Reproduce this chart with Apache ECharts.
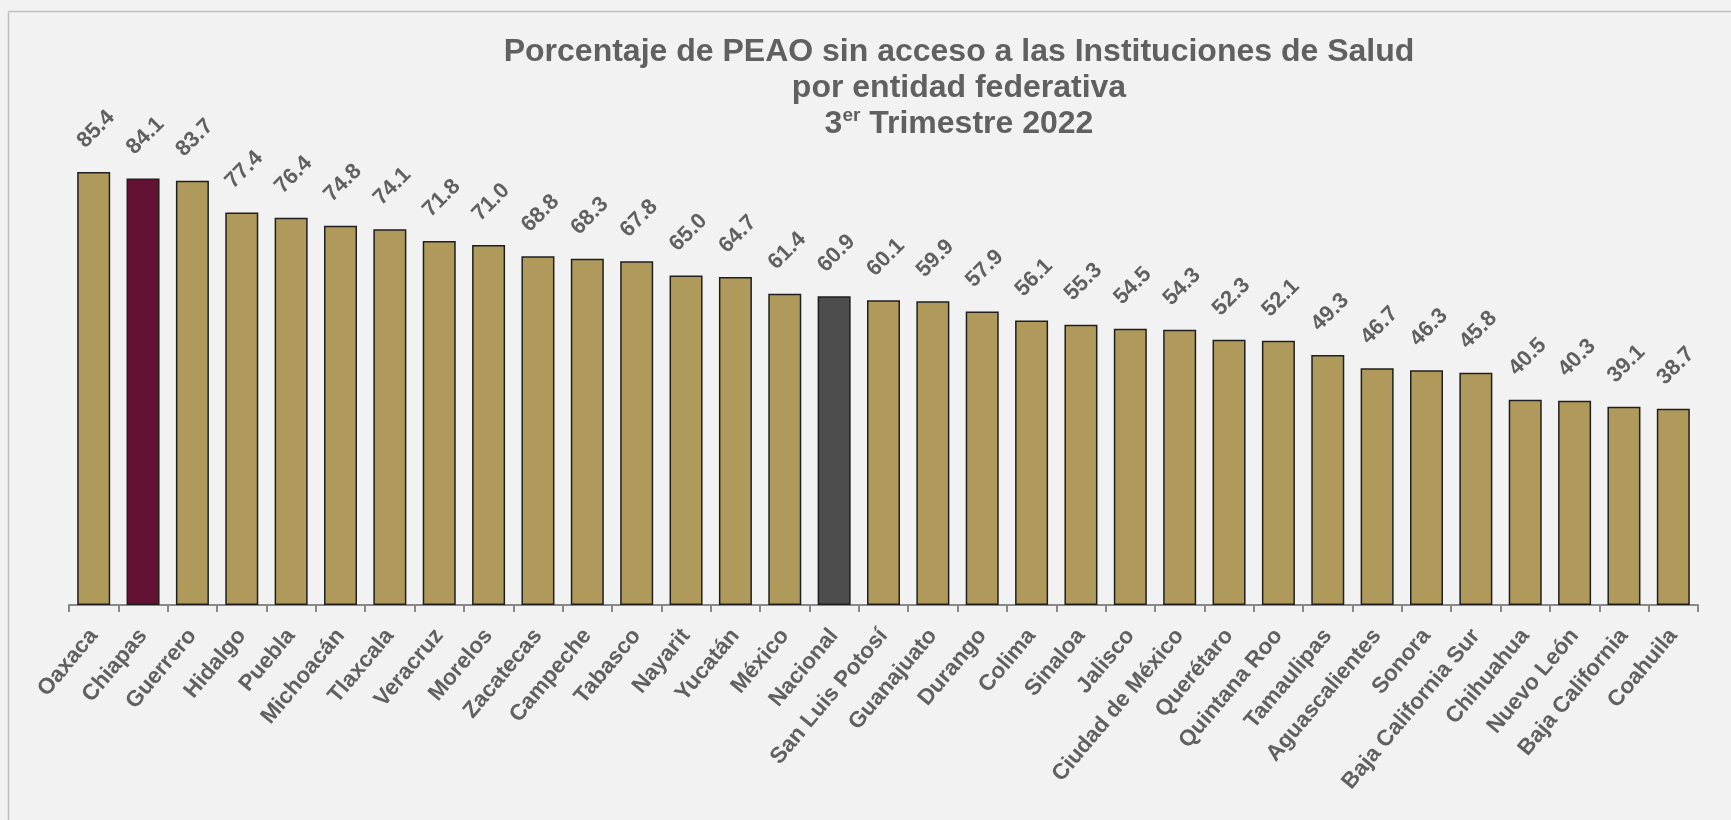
<!DOCTYPE html>
<html>
<head>
<meta charset="utf-8">
<script src="https://cdn.jsdelivr.net/npm/echarts@6/dist/echarts.min.js"></script>
<style>
  html, body { margin: 0; padding: 0; background: #f2f2f2; }
  #chart { width: 1731px; height: 820px; }
</style>
</head>
<body>
<div id="chart"></div>
<script>
// entidades federativas
var entidades = ['Oaxaca', 'Chiapas', 'Guerrero', 'Hidalgo', 'Puebla', 'Michoacán', 'Tlaxcala', 'Veracruz',
  'Morelos', 'Zacatecas', 'Campeche', 'Tabasco', 'Nayarit', 'Yucatán', 'México', 'Nacional',
  'San Luis Potosí', 'Guanajuato', 'Durango', 'Colima', 'Sinaloa', 'Jalisco', 'Ciudad de México',
  'Querétaro', 'Quintana Roo', 'Tamaulipas', 'Aguascalientes', 'Sonora', 'Baja California Sur',
  'Chihuahua', 'Nuevo León', 'Baja California', 'Coahuila']
// porcentaje de PEAO sin acceso
var porcentajes = [85.4, 84.1, 83.7, 77.4, 76.4, 74.8, 74.1, 71.8, 71.0, 68.8, 68.3, 67.8, 65.0, 64.7,
  61.4, 60.9, 60.1, 59.9, 57.9, 56.1, 55.3, 54.5, 54.3, 52.3, 52.1, 49.3, 46.7, 46.3, 45.8, 40.5,
  40.3, 39.1, 38.7]
// barras resaltadas
var resaltadas = { 'Chiapas': '#621132', 'Nacional': '#4d4d4d' }

var colorBase = '#b09a5b'
var gris = '#606060'
var fuente = '"Liberation Sans", Arial, sans-serif'

var myChart = echarts.init(document.getElementById('chart'))

var datos = porcentajes.map(function (v, i) {
  return {
    value: v,
    itemStyle: { color: resaltadas[entidades[i]] || colorBase }
  }
})

var option = {
  backgroundColor: '#f2f2f2',
  title: {
    text: 'Porcentaje de PEAO sin acceso a las Instituciones de Salud\npor entidad federativa\n{a|3}{sup|er}{a| Trimestre 2022}',
    left: 954,
    top: 29,
    textAlign: 'center',
    textStyle: {
      color: gris,
      fontFamily: fuente,
      fontWeight: 'bold',
      fontSize: 32,
      lineHeight: 36,
      rich: {
        a: { color: gris, fontFamily: fuente, fontWeight: 'bold', fontSize: 32, lineHeight: 36 },
        sup: { color: gris, fontFamily: fuente, fontWeight: 'bold', fontSize: 19, lineHeight: 36, verticalAlign: 'top', padding: [0, 0, 10, 0] }
      }
    }
  },
  grid: { left: 69, right: 33, top: 98, bottom: 215 },
  xAxis: {
    type: 'category',
    data: entidades,
    axisLine: { lineStyle: { color: '#898989', width: 2 } },
    axisTick: { show: true, length: 7, lineStyle: { color: '#898989', width: 2 } },
    axisLabel: {
      interval: 0,
      rotate: 50,
      margin: 27,
      color: gris,
      fontFamily: fuente,
      fontWeight: 'bold',
      fontSize: 22.5
    }
  },
  yAxis: {
    type: 'value',
    min: 0,
    max: 100,
    show: false,
    splitLine: { show: false }
  },
  series: [
    {
      type: 'bar',
      data: datos,
      barWidth: 33,
      itemStyle: { borderColor: '#1f1f1f', borderWidth: 1.5 },
      label: {
        show: true,
        position: 'top',
        distance: 5,
        rotate: 45,
        align: 'left',
        verticalAlign: 'middle',
        offset: [7, -25], // desplazamiento en el marco girado
        formatter: function (p) { return p.value.toFixed(1) },
        color: gris,
        fontFamily: fuente,
        fontWeight: 'bold',
        fontSize: 22
      }
    }
  ],
  graphic: [
    // marco del grafico
    { type: 'line', shape: { x1: 8.5, y1: 11.5, x2: 1731, y2: 11.5 }, style: { stroke: '#bfbfbf', lineWidth: 1.5 } },
    { type: 'line', shape: { x1: 8.5, y1: 11.5, x2: 8.5, y2: 820 }, style: { stroke: '#bfbfbf', lineWidth: 1.5 } }
  ]
}
myChart.setOption(option)
</script>
</body>
</html>
